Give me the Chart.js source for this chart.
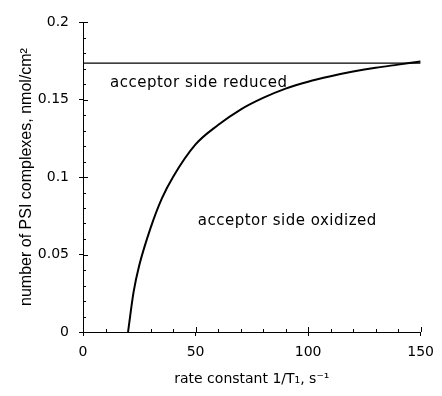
<!DOCTYPE html>
<html>
<head>
<meta charset="utf-8">
<script src="https://cdn.jsdelivr.net/npm/chart.js@4.4.1/dist/chart.umd.min.js"></script>
<style>
  html, body { margin: 0; background: #fff; }
  #wrap { width: 442px; height: 396px; }
</style>
</head>
<body>
<div id="wrap"><canvas id="psiChart"></canvas></div>
<script>
// rate constant 1/T1 (s^-1) and PSI complexes (nmol/cm2)
const rateK = [20, 22.5, 25, 30, 35, 40, 50, 60, 70, 80, 90, 100, 110, 120, 130, 140, 150];
const psiCount = [0, 0.026, 0.043, 0.067, 0.086, 0.1, 0.121, 0.1335, 0.1435, 0.151, 0.157, 0.1615, 0.165, 0.168, 0.1705, 0.1725, 0.1745];
const plateauX = [0, 150];
const plateauY = [0.1735, 0.1735];
const xMajor = [0, 50, 100, 150];
const yMajor = [0, 0.05, 0.1, 0.15, 0.2];

const FONT = '"DejaVu Sans", sans-serif';
const isMajor = (v, arr) => arr.some(m => Math.abs(m - v) < 1e-6);

// inside tick marks + region labels
const innerTicks = {
    id: 'innerTicks',
    afterDraw(chart) {
        const { ctx, scales: { x, y } } = chart;
        ctx.save();
        ctx.strokeStyle = '#000';
        ctx.lineWidth = 1;
        ctx.beginPath();
        x.ticks.forEach(t => {
            const px = Math.round(x.getPixelForValue(t.value)) + 0.5;
            const len = isMajor(t.value, xMajor) ? 5 : 3;
            ctx.moveTo(px, y.bottom);
            ctx.lineTo(px, y.bottom - len);
        });
        y.ticks.forEach(t => {
            const py = Math.round(y.getPixelForValue(t.value)) + 0.5;
            const len = isMajor(t.value, yMajor) ? 5 : 3;
            ctx.moveTo(x.left, py);
            ctx.lineTo(x.left + len, py);
        });
        ctx.stroke();

        ctx.fillStyle = '#000';
        ctx.font = '15px ' + FONT;
        ctx.letterSpacing = '0.5px';
        ctx.textBaseline = 'middle';
        ctx.fillText('acceptor side reduced', x.getPixelForValue(12), y.getPixelForValue(0.1605));
        ctx.fillText('acceptor side oxidized', x.getPixelForValue(51), y.getPixelForValue(0.0715));
        ctx.restore();
    }
};

new Chart(document.getElementById('psiChart'), {
    type: 'scatter',
    data: {
        datasets: [{
            data: rateK.map((v, i) => ({ x: v, y: psiCount[i] })),
            showLine: true,
            borderColor: '#000',
            borderWidth: 2,
            pointRadius: 0,
            cubicInterpolationMode: 'monotone'
        }, {
            data: plateauX.map((v, i) => ({ x: v, y: plateauY[i] })),
            showLine: true,
            borderColor: '#000',
            borderWidth: 1.2,
            pointRadius: 0
        }]
    },
    options: {
        responsive: true,
        maintainAspectRatio: false,
        animation: false,
        layout: { padding: { top: 22, right: 14, left: 0, bottom: 0 } },
        plugins: { legend: { display: false }, tooltip: { enabled: false } },
        scales: {
            x: {
                type: 'linear',
                min: 0, max: 150,
                afterFit: s => { s.height = 64; },
                grid: {
                    drawOnChartArea: false,
                    tickLength: 4,
                    tickColor: c => isMajor(c.tick.value, xMajor) ? '#000' : 'rgba(0,0,0,0)'
                },
                border: { color: '#000', width: 1 },
                ticks: {
                    stepSize: 10,
                    autoSkip: false,
                    maxRotation: 0,
                    padding: 8,
                    color: '#000',
                    font: { family: FONT, size: 14 },
                    callback: v => isMajor(v, xMajor) ? String(v) : ''
                },
                title: {
                    display: true,
                    text: 'rate constant 1/T\u2081, s\u207B\u00B9',
                    color: '#000',
                    font: { family: FONT, size: 14 },
                    padding: { top: 0, bottom: 8 }
                }
            },
            y: {
                type: 'linear',
                min: 0, max: 0.2,
                afterFit: s => { s.width = 83; },
                grid: {
                    drawOnChartArea: false,
                    tickLength: 4,
                    tickColor: c => isMajor(c.tick.value, yMajor) ? '#000' : 'rgba(0,0,0,0)'
                },
                border: { color: '#000', width: 1 },
                ticks: {
                    stepSize: 0.01,
                    autoSkip: false,
                    padding: 10,
                    color: '#000',
                    font: { family: FONT, size: 14 },
                    callback: v => isMajor(v, yMajor) ? String(+v.toFixed(2)) : ''
                },
                title: {
                    display: true,
                    text: 'number of PSI complexes, nmol/cm\u00B2',
                    color: '#000',
                    font: { family: '"Liberation Sans", Arial, sans-serif', size: 16 },
                    padding: { top: 17, bottom: 0 }
                }
            }
        }
    },
    plugins: [innerTicks]
});
</script>
</body>
</html>
